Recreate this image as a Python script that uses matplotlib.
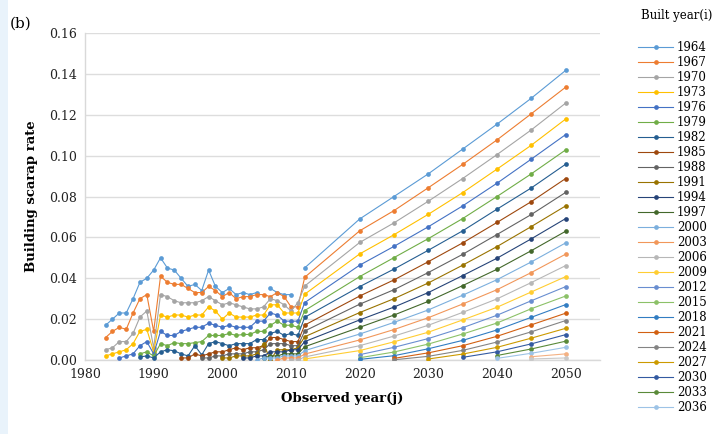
import numpy as np
import matplotlib
matplotlib.use("Agg")
import matplotlib.pyplot as plt
from matplotlib.patches import Rectangle

# built-year cohorts (i) and observation years (j)
BUILT = [1964, 1967, 1970, 1973, 1976, 1979, 1982, 1985, 1988, 1991, 1994, 1997, 2000,
         2003, 2006, 2009, 2012, 2015, 2018, 2021, 2024, 2027, 2030, 2033, 2036, 2039, 2042]
N_LEGEND = 25   # cohorts listed in the legend
HIST_YEARS = [1983, 1984, 1985, 1986, 1987, 1988, 1989, 1990, 1991, 1992, 1993, 1994, 1995,
              1996, 1997, 1998, 1999, 2000, 2001, 2002, 2003, 2004, 2005, 2006, 2007, 2008,
              2009, 2010, 2011]
FUT_YEARS = [2012, 2020, 2025, 2030, 2035, 2040, 2045, 2050]

N = None
# observed scrap rates 1983-2011, one row per cohort (None = no record)
HIST = [
    [0.017, 0.020, 0.023, 0.023, 0.030, 0.038, 0.040, 0.044, 0.050, 0.045, 0.044, 0.040, 0.036,
     0.037, 0.034, 0.044, 0.036, 0.033, 0.035, 0.032, 0.033, 0.032, 0.033, N, 0.035, 0.033,
     0.032, 0.032, N],
    [0.011, 0.014, 0.016, 0.015, 0.023, 0.030, 0.032, 0.014, 0.041, 0.038, 0.037, 0.037, 0.035,
     0.033, 0.033, 0.036, 0.034, 0.031, 0.033, 0.030, 0.031, 0.031, 0.032, 0.032, 0.031, 0.033,
     0.031, 0.026, 0.026],
    [0.005, 0.006, 0.009, 0.009, 0.013, 0.021, 0.024, 0.006, 0.032, 0.031, 0.029, 0.028, 0.028,
     0.028, 0.029, 0.031, 0.029, 0.027, 0.028, 0.027, 0.026, 0.025, 0.025, 0.026, 0.030, 0.029,
     0.027, 0.024, 0.028],
    [0.002, 0.003, 0.004, 0.005, 0.008, 0.014, 0.015, 0.004, 0.022, 0.021, 0.022, 0.022, 0.021,
     0.022, 0.022, 0.026, 0.024, 0.020, 0.023, 0.021, 0.021, 0.021, 0.022, 0.022, 0.027, 0.027,
     0.023, 0.023, 0.023],
    [N, N, 0.001, 0.002, 0.003, 0.007, 0.009, 0.003, 0.014, 0.012, 0.012, 0.014, 0.015,
     0.016, 0.016, 0.018, 0.017, 0.016, 0.017, 0.016, 0.016, 0.016, 0.019, 0.019, 0.023, 0.022,
     0.019, 0.019, 0.019],
    [N, N, N, N, N, 0.003, 0.004, 0.002, 0.008, 0.007, 0.0085, 0.008, 0.008,
     0.0085, 0.009, 0.012, 0.012, 0.012, 0.013, 0.012, 0.0125, 0.0125, 0.014, 0.014, 0.017, 0.019,
     0.017, 0.017, 0.016],
    [N, N, N, N, N, 0.0015, 0.002, 0.001, 0.004, 0.005, 0.0045, 0.003, 0.002,
     0.007, 0.0025, 0.008, 0.009, 0.008, 0.007, 0.008, 0.008, 0.008, 0.010, 0.010, 0.013, 0.014,
     0.012, 0.013, 0.012],
    [N, N, N, N, N, N, N, N, N, N, N, 0.001, 0.001,
     0.003, 0.002, 0.003, 0.004, 0.004, 0.005, 0.006, 0.005, 0.006, 0.006, 0.007, 0.011, 0.011,
     0.010, 0.009, 0.009],
    [N, N, N, N, N, N, N, N, N, N, N, N, N,
     N, 0.001, 0.001, 0.002, 0.002, 0.003, 0.003, 0.003, 0.004, 0.004, 0.005, 0.008, 0.008,
     0.008, 0.007, 0.007],
    [N, N, N, N, N, N, N, N, N, N, N, N, N,
     N, N, N, N, 0.001, 0.001, 0.002, 0.002, 0.002, 0.003, 0.008, 0.000, 0.005,
     0.005, 0.005, 0.006],
    [N, N, N, N, N, N, N, N, N, N, N, N, N,
     N, N, N, N, N, N, N, 0.001, 0.001, 0.002, 0.002, 0.004, 0.004,
     0.004, 0.005, 0.005],
    [N, N, N, N, N, N, N, N, N, N, N, N, N,
     N, N, N, N, N, N, N, N, N, N, 0.001, 0.002, 0.002,
     0.003, 0.003, 0.003],
    [N, N, N, N, N, N, N, N, N, N, N, N, N,
     N, N, N, N, N, N, N, N, N, 0.000, 0.001, 0.001, 0.001,
     0.002, 0.002, 0.002],
    [N, N, N, N, N, N, N, N, N, N, N, N, N,
     N, N, N, N, N, N, N, N, N, N, N, N, 0.000,
     0.001, 0.001, 0.001],
    [N, N, N, N, N, N, N, N, N, N, N, N, N,
     N, N, N, N, N, N, N, N, N, N, N, N, N,
     N, 0.000, 0.000],
]

# 2012 actuals and projected rates, one list per observation year (cohort order)
RATE_2012 = [0.0451, 0.0405, 0.0362, 0.0322, 0.0281, 0.0242, 0.0209, 0.0171, 0.0142, 0.0114,
             0.0090, 0.0065, 0.0046, 0.0029, 0.0015, 0.0005]
RATE_2020 = [0.0690, 0.0632, 0.0575, 0.0519, 0.0464, 0.0408, 0.0359, 0.0313, 0.0273, 0.0232,
             0.0196, 0.0160, 0.0127, 0.0098, 0.0070, 0.0046, 0.0026, 0.0011, 0.0003]
RATE_2025 = [0.0800, 0.0731, 0.0671, 0.0613, 0.0556, 0.0501, 0.0445, 0.0392, 0.0344, 0.0300,
             0.0259, 0.0220, 0.0184, 0.0149, 0.0117, 0.0089, 0.0062, 0.0039, 0.0021, 0.0008,
             0.0001]
RATE_2030 = [0.0911, 0.0843, 0.0777, 0.0713, 0.0652, 0.0594, 0.0537, 0.0481, 0.0428, 0.0377,
             0.0330, 0.0287, 0.0245, 0.0207, 0.0170, 0.0136, 0.0105, 0.0078, 0.0055, 0.0035,
             0.0018, 0.0005]
RATE_2035 = [0.1032, 0.0957, 0.0888, 0.0819, 0.0754, 0.0692, 0.0632, 0.0573, 0.0517, 0.0464,
             0.0413, 0.0364, 0.0317, 0.0274, 0.0233, 0.0196, 0.0158, 0.0127, 0.0096, 0.0070,
             0.0047, 0.0029, 0.0013]
RATE_2040 = [0.1154, 0.1077, 0.1005, 0.0934, 0.0865, 0.0800, 0.0738, 0.0673, 0.0614, 0.0555,
             0.0498, 0.0444, 0.0393, 0.0344, 0.0299, 0.0258, 0.0219, 0.0181, 0.0147, 0.0116,
             0.0088, 0.0062, 0.0040, 0.0022, 0.0008]
RATE_2045 = [0.1281, 0.1205, 0.1126, 0.1051, 0.0983, 0.0911, 0.0842, 0.0775, 0.0712, 0.0653,
             0.0593, 0.0535, 0.0480, 0.0428, 0.0379, 0.0333, 0.0290, 0.0251, 0.0209, 0.0172,
             0.0138, 0.0107, 0.0079, 0.0054, 0.0033, 0.0016, 0.0005]
RATE_2050 = [0.1417, 0.1335, 0.1257, 0.1179, 0.1103, 0.1028, 0.0958, 0.0888, 0.0820, 0.0754,
             0.0692, 0.0630, 0.0573, 0.0518, 0.0462, 0.0408, 0.0359, 0.0313, 0.0271, 0.0229,
             0.0193, 0.0155, 0.0124, 0.0092, 0.0062, 0.0030, 0.0010]
FUT_COLS = [RATE_2012, RATE_2020, RATE_2025, RATE_2030, RATE_2035, RATE_2040, RATE_2045, RATE_2050]

# office-style series palette
COLORS = ["#5B9BD5", "#ED7D31", "#A5A5A5", "#FFC000", "#4472C4", "#70AD47",
          "#255E91", "#9E480E", "#636363", "#997300", "#264478", "#43682B",
          "#7CAFDD", "#F1975A", "#B7B7B7", "#FFCD33", "#698ED0", "#8CC168",
          "#327DC2", "#D26012", "#848484", "#CC9A00", "#335AA1", "#5A8A39",
          "#9DC3E6", "#F4B183", "#C9C9C9"]

plt.rcParams["font.family"] = ["DejaVu Serif"]

fig = plt.figure(figsize=(7.2, 4.34), dpi=100)
fig.patches.append(Rectangle((0, 0), 8 / 720, 1, transform=fig.transFigure,
                             facecolor="#E9F3FB", edgecolor="none", zorder=0))
ax = fig.add_axes([85 / 720, 1 - 360 / 434, 515 / 720, 327 / 434])

years = HIST_YEARS + FUT_YEARS
for k, b in enumerate(BUILT):
    hist = HIST[k] if k < len(HIST) else [None] * len(HIST_YEARS)
    fut = [col[k] if k < len(col) else None for col in FUT_COLS]
    y = np.array([np.nan if v is None else v for v in hist + fut], dtype=float)
    ax.plot(years, y, "-o", color=COLORS[k], lw=0.8, ms=3.4, mew=0,
            label=str(b) if k < N_LEGEND else "_nolegend_", zorder=3)

ax.set_xlim(1980, 2055)
ax.set_ylim(0, 0.16)
ax.set_xticks([1980, 1990, 2000, 2010, 2020, 2030, 2040, 2050])
ax.set_yticks(np.arange(0, 0.161, 0.02))
ax.yaxis.set_major_formatter(matplotlib.ticker.FormatStrFormatter("%.2f"))
ax.tick_params(length=0, labelsize=9, pad=6, colors="#222222")
ax.grid(axis="y", color="#DDDDDD", lw=1.0)
ax.set_axisbelow(True)
for s in ("top", "right"):
    ax.spines[s].set_visible(False)
for s in ("left", "bottom"):
    ax.spines[s].set_color("#D9D9D9")
    ax.spines[s].set_linewidth(1.0)

ax.set_ylabel("Building scarap rate", fontsize=9.5, fontweight="bold", labelpad=8)
ax.set_xlabel("Observed year(j)", fontsize=9.5, fontweight="bold", labelpad=8)
fig.text(10 / 720, 1 - 24 / 434, "(b)", fontsize=11, va="center", ha="left")
fig.text(677 / 720, 1 - 16 / 434, "Built year(i)", fontsize=8.5, va="center", ha="center")

ax.legend(loc="upper left", bbox_to_anchor=(638 / 720, 1 - 41 / 434),
          bbox_transform=fig.transFigure, frameon=False, fontsize=8.5,
          handlelength=3.0, handletextpad=0.3, labelspacing=0.17,
          borderpad=0, borderaxespad=0)

fig.savefig("out.png", dpi=100)
